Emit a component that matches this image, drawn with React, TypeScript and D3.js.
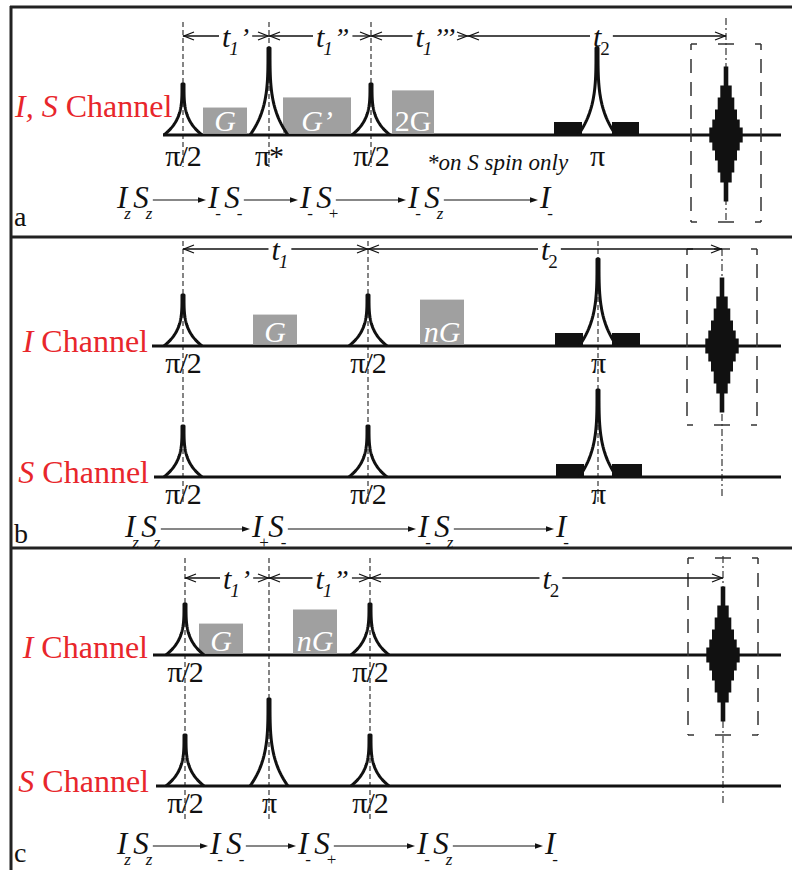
import React, { useEffect, useRef } from 'react';
import * as d3 from 'd3';

type Pulse = { t: number; flip: number; label: string };
type Grad = { t0: number; t1: number; amp: number; label: string };
type Delay = { from: number; to: number; sub: string; prime: string };
type Term = [string, string];

// ---- panel a : single I,S channel ----
const pulsesA: Pulse[] = [
  { t: 33, flip: 90, label: 'π/2' },
  { t: 119, flip: 180, label: 'π*' },
  { t: 221, flip: 90, label: 'π/2' },
  { t: 447, flip: 180, label: 'π' },
];
const gradsA: Grad[] = [
  { t0: 53, t1: 97, amp: 0.59, label: 'G' },
  { t0: 133, t1: 201, amp: 0.82, label: 'G’' },
  { t0: 242, t1: 284, amp: 0.98, label: '2G' },
];
const blocksA = [[404, 432], [462, 489]];
const delaysA: Delay[] = [
  { from: 33, to: 119, sub: '1', prime: '’' },
  { from: 119, to: 221, sub: '1', prime: '”' },
  { from: 221, to: 318, sub: '1', prime: '’’’' },
  { from: 318, to: 576, sub: '2', prime: '' },
];
const markersA = [33, 119, 221];
const fidA = 576;
const statesA: Term[][] = [
  [['I', 'z'], ['S', 'z']],
  [['I', '-'], ['S', '-']],
  [['I', '-'], ['S', '+']],
  [['I', '-'], ['S', 'z']],
  [['I', '-']],
];

// ---- panel b : I and S channels ----
const pulsesBI: Pulse[] = [
  { t: 33, flip: 90, label: 'π/2' },
  { t: 218, flip: 90, label: 'π/2' },
  { t: 448, flip: 180, label: 'π' },
];
const pulsesBS: Pulse[] = [
  { t: 33, flip: 90, label: 'π/2' },
  { t: 218, flip: 90, label: 'π/2' },
  { t: 448, flip: 180, label: 'π' },
];
const gradsBI: Grad[] = [
  { t0: 103, t1: 147, amp: 0.68, label: 'G' },
  { t0: 270, t1: 314, amp: 1.02, label: 'nG' },
];
const blocksBI = [[405, 433], [462, 490]];
const blocksBS = [[406, 434], [462, 492]];
const delaysB: Delay[] = [
  { from: 33, to: 218, sub: '1', prime: '' },
  { from: 218, to: 572, sub: '2', prime: '' },
];
const markersB = [33, 218, 448];
const fidB = 572;
const statesB: Term[][] = [
  [['I', 'z'], ['S', 'z']],
  [['I', '+'], ['S', '-']],
  [['I', '-'], ['S', 'z']],
  [['I', '-']],
];

// ---- panel c ----
const pulsesCI: Pulse[] = [
  { t: 35, flip: 90, label: 'π/2' },
  { t: 220, flip: 90, label: 'π/2' },
];
const pulsesCS: Pulse[] = [
  { t: 35, flip: 90, label: 'π/2' },
  { t: 119, flip: 180, label: 'π' },
  { t: 220, flip: 90, label: 'π/2' },
];
const gradsCI: Grad[] = [
  { t0: 49, t1: 93, amp: 0.68, label: 'G' },
  { t0: 143, t1: 187, amp: 1.0, label: 'nG' },
];
const delaysC: Delay[] = [
  { from: 35, to: 119, sub: '1', prime: '’' },
  { from: 119, to: 220, sub: '1', prime: '”' },
  { from: 220, to: 573, sub: '2', prime: '' },
];
const markersC = [35, 119, 220];
const fidC = 573;
const statesC: Term[][] = statesA;

// stepped FID envelope (half widths and step heights)
const fidHalfWidths = [2.3, 5.7, 8.3, 11, 13.7, 16.7, 13.7, 11, 8.3, 5.7, 2.3];
const fidStepHeights = [19, 12, 12, 10, 8, 15, 8, 10, 12, 10, 19];

const SERIF = '"Liberation Serif", "Times New Roman", serif';
const RED = '#e8262b';
const GRAY = '#a0a0a0';
const INK = '#111';

const panels = [
  {
    letter: 'a', letterY: 226, arrowY: 36, labelDy: 31,
    channels: [
      { label: [['I, S', true], [' Channel', false]], base: 135, labelX: 15, labelY: 117, anchor: 'start', lineStart: 163, pulses: pulsesA, grads: gradsA, blocks: blocksA },
    ],
    delays: delaysA, markers: markersA, markerTop: 22, markerBottom: 167,
    fid: fidA, fidTop: 18, fidBottom: 222, boxTop: 44, boxBottom: 222,
    states: statesA, stateX: [117, 208, 300, 408, 540], prodY: 208,
  },
  {
    letter: 'b', letterY: 543, arrowY: 249, labelDy: 27,
    channels: [
      { label: [['I', true], [' Channel', false]], base: 346, labelX: 148, labelY: 352, anchor: 'end', lineStart: 152, pulses: pulsesBI, grads: gradsBI, blocks: blocksBI },
      { label: [['S', true], [' Channel', false]], base: 477, labelX: 149, labelY: 483, anchor: 'end', lineStart: 154, pulses: pulsesBS, grads: [], blocks: blocksBS },
    ],
    delays: delaysB, markers: markersB, markerTop: 241, markerBottom: 503,
    fid: fidB, fidTop: 249, fidBottom: 496, boxTop: 249, boxBottom: 425,
    states: statesB, stateX: [125, 252, 418, 556], prodY: 537,
  },
  {
    letter: 'c', letterY: 862, arrowY: 578, labelDy: 27,
    channels: [
      { label: [['I', true], [' Channel', false]], base: 655, labelX: 148, labelY: 658, anchor: 'end', lineStart: 153, pulses: pulsesCI, grads: gradsCI, blocks: [] },
      { label: [['S', true], [' Channel', false]], base: 786, labelX: 149, labelY: 792, anchor: 'end', lineStart: 156, pulses: pulsesCS, grads: [], blocks: [] },
    ],
    delays: delaysC, markers: markersC, markerTop: 558, markerBottom: 822,
    fid: fidC, fidTop: 556, fidBottom: 805, boxTop: 558, boxBottom: 735,
    states: statesC, stateX: [117, 210, 298, 417, 545], prodY: 854,
  },
];

export default function App() {
  const ref = useRef<SVGSVGElement>(null);

  useEffect(() => {
    const svg = d3.select(ref.current);
    svg.selectAll('*').remove();

    // time axis of the sequence
    const x = d3.scaleLinear().domain([0, 640]).range([150, 790]);
    const flipH = d3.scaleLinear().domain([90, 180]).range([51, 87]);
    const gradH = d3.scaleLinear().domain([0, 1]).range([0, 44]);
    const line = d3.line();

    svg.append('rect').attr('width', 792).attr('height', 870).attr('fill', '#fff');

    // frame
    const frame = svg.append('g').attr('stroke', '#222').attr('stroke-width', 3);
    frame.append('line').attr('x1', 11).attr('x2', 11).attr('y1', 6).attr('y2', 870);
    [7, 237, 548].forEach((y) => {
      frame.append('line').attr('x1', 10).attr('x2', 792).attr('y1', y).attr('y2', y);
    });

    const serifText = (g: any) =>
      g.append('text').style('font-family', SERIF).attr('fill', INK);

    // narrow spike with flared foot
    const pulsePath = (cx: number, base: number, h: number) => {
      const D = 18;
      const pts: [number, number][] = [];
      for (let i = 0; i <= 40; i++) {
        const f = i / 40;
        pts.push([cx - 1 - D * (1 - f) ** 3.5, base - h * f]);
      }
      for (let i = 40; i >= 0; i--) {
        const f = i / 40;
        pts.push([cx + 1 + D * (1 - f) ** 3.5, base - h * f]);
      }
      return line(pts);
    };

    const chevron = (g: any, tip: number, y: number, dir: number) => {
      g.append('path')
        .attr('d', `M${tip - dir * 10},${y - 4}L${tip},${y}L${tip - dir * 10},${y + 4}`)
        .attr('fill', 'none').attr('stroke', INK).attr('stroke-width', 1.3);
    };

    panels.forEach((p) => {
      const g = svg.append('g');

      // dashed markers
      p.markers.forEach((t) => {
        g.append('line').attr('x1', x(t)).attr('x2', x(t))
          .attr('y1', p.markerTop).attr('y2', p.markerBottom)
          .attr('stroke', '#222').attr('stroke-width', 1.1).attr('stroke-dasharray', '5,3');
      });
      g.append('line').attr('x1', x(p.fid)).attr('x2', x(p.fid))
        .attr('y1', p.fidTop).attr('y2', p.fidBottom)
        .attr('stroke', '#222').attr('stroke-width', 1.1).attr('stroke-dasharray', '7,3,2,3');

      // channels
      p.channels.forEach((ch) => {
        const lbl = serifText(g).attr('x', ch.labelX).attr('y', ch.labelY)
          .attr('text-anchor', ch.anchor).attr('font-size', 32).attr('fill', RED);
        (ch.label as [string, boolean][]).forEach(([s, it]) => {
          lbl.append('tspan').attr('font-style', it ? 'italic' : 'normal').text(s);
        });

        g.append('line').attr('x1', ch.lineStart).attr('x2', 781)
          .attr('y1', ch.base).attr('y2', ch.base).attr('stroke', INK).attr('stroke-width', 3);

        ch.grads.forEach((d) => {
          const h = gradH(d.amp);
          g.append('rect').attr('x', x(d.t0)).attr('y', ch.base - h - 1.5)
            .attr('width', x(d.t1) - x(d.t0)).attr('height', h).attr('fill', GRAY);
          serifText(g).attr('x', (x(d.t0) + x(d.t1)) / 2).attr('y', ch.base - 4)
            .attr('text-anchor', 'middle').attr('font-size', 30)
            .attr('font-style', /^\d/.test(d.label) ? 'normal' : 'italic')
            .attr('fill', '#fff').text(d.label);
        });

        ch.blocks.forEach(([t0, t1]) => {
          g.append('rect').attr('x', x(t0)).attr('y', ch.base - 13)
            .attr('width', x(t1) - x(t0)).attr('height', 13).attr('fill', INK);
        });

        ch.pulses.forEach((d) => {
          g.append('path').attr('d', pulsePath(x(d.t), ch.base, flipH(d.flip)))
            .attr('fill', 'none').attr('stroke', INK).attr('stroke-width', 3)
            .attr('stroke-linejoin', 'round');
          serifText(g).attr('x', x(d.t)).attr('y', ch.base + p.labelDy)
            .attr('text-anchor', 'middle').attr('font-size', 30)
            .attr('letter-spacing', -1).text(d.label);
        });
      });

      // FID on the first channel
      const base = p.channels[0].base;
      const cx = x(p.fid);
      const up = d3.sum(fidStepHeights.slice(0, 5)) + fidStepHeights[5] / 2;
      let yy = base - up;
      const right: [number, number][] = [];
      fidStepHeights.forEach((h, i) => {
        right.push([cx + fidHalfWidths[i], yy]);
        right.push([cx + fidHalfWidths[i], yy + h]);
        yy += h;
      });
      const left = right.map(([px, py]) => [2 * cx - px, py] as [number, number]).reverse();
      g.append('path').attr('d', line(right.concat(left)) + 'Z').attr('fill', INK);

      // dashed detection box
      const bx0 = cx - 35, bx1 = cx + 35;
      const bs = g.append('g').attr('stroke', '#333').attr('stroke-width', 1.5).attr('fill', 'none');
      [p.boxTop, p.boxBottom].forEach((by) => {
        [[bx0, bx0 + 6], [cx - 8, cx + 8], [bx1 - 6, bx1]].forEach(([a, b]) => {
          bs.append('line').attr('x1', a).attr('x2', b).attr('y1', by).attr('y2', by);
        });
      });
      [bx0, bx1].forEach((bx) => {
        bs.append('line').attr('x1', bx).attr('x2', bx).attr('y1', p.boxTop).attr('y2', p.boxBottom)
          .attr('stroke-dasharray', '14,9').attr('stroke-dashoffset', 8);
      });

      // delay arrows
      p.delays.forEach((d) => {
        const x0 = x(d.from), x1 = x(d.to);
        const mid = (x0 + x1) / 2;
        const txt = serifText(g).attr('x', mid - 4).attr('y', p.arrowY + 11)
          .attr('font-size', 30).attr('font-style', 'italic');
        txt.append('tspan').text('t');
        txt.append('tspan').attr('font-size', 19).attr('dy', 8).attr('dx', -1)
          .attr('font-style', d.sub === '1' ? 'italic' : 'normal').text(d.sub);
        if (d.prime) txt.append('tspan').attr('font-size', 28).attr('dy', -8).attr('dx', 1).text(d.prime);
        const bb = (txt.node() as SVGTextElement).getBBox();
        const y = p.arrowY;
        g.append('line').attr('x1', x0).attr('x2', bb.x - 3).attr('y1', y).attr('y2', y)
          .attr('stroke', INK).attr('stroke-width', 1.3);
        g.append('line').attr('x1', bb.x + bb.width + 3).attr('x2', x1).attr('y1', y).attr('y2', y)
          .attr('stroke', INK).attr('stroke-width', 1.3);
        chevron(g, x0 + 1, y, -1);
        chevron(g, x1 - 1, y, 1);
      });

      // product operator path
      p.states.forEach((st, i) => {
        let px = p.stateX[i];
        let end = px;
        st.forEach(([L, s]) => {
          const t = serifText(g).attr('x', px).attr('y', p.prodY)
            .attr('font-size', 31).attr('font-style', 'italic').text(L);
          const w = (t.node() as SVGTextElement).getComputedTextLength();
          serifText(g).attr('x', px + w - 3).attr('y', p.prodY + 11)
            .attr('font-size', 17)
            .attr('font-style', s === 'z' ? 'italic' : 'normal').text(s);
          end = px + w;
          px += w + 6;
        });
        if (i < p.states.length - 1) {
          const a0 = end + 4, a1 = p.stateX[i + 1] - 2, y = p.prodY - 8;
          g.append('line').attr('x1', a0).attr('x2', a1 - 6).attr('y1', y).attr('y2', y)
            .attr('stroke', INK).attr('stroke-width', 1.1);
          g.append('path').attr('d', `M${a1},${y}L${a1 - 8},${y - 2.8}L${a1 - 8},${y + 2.8}Z`).attr('fill', INK);
        }
      });

      serifText(g).attr('x', 14).attr('y', p.letterY).attr('font-size', 28).text(p.letter);
    });

    serifText(svg).attr('x', 427).attr('y', 170)
      .attr('font-size', 23).attr('font-style', 'italic').text('*on S spin only');
  }, []);

  return (
    <svg
      ref={ref}
      width={792}
      height={870}
      style={{ position: 'absolute', left: 0, top: 0, background: '#fff' }}
    />
  );
}
